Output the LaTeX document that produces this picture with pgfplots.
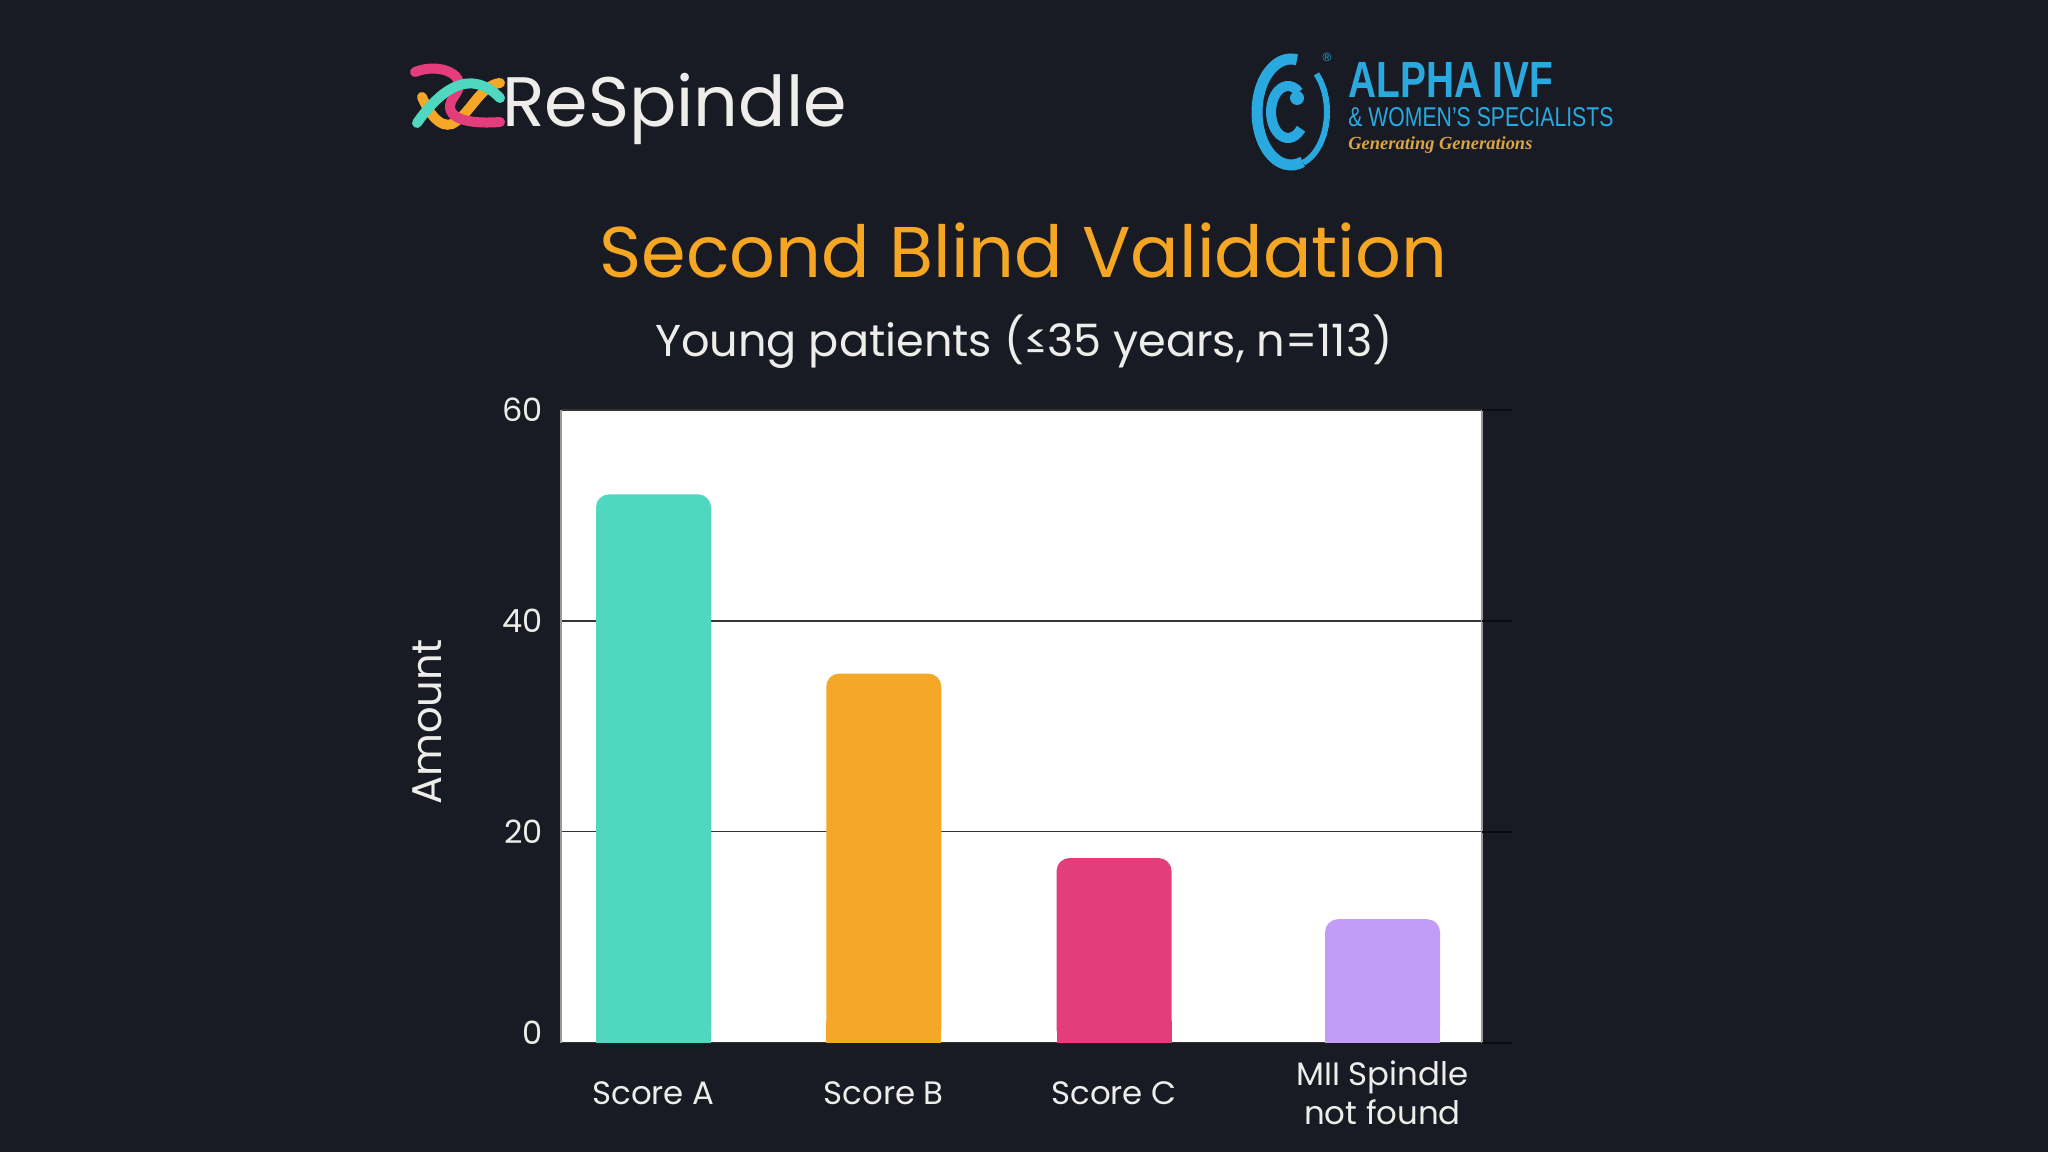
\documentclass[border=0pt]{standalone}
\usepackage{fontspec}
\setmainfont{Poppins}
\newfontfamily\brandfont{Liberation Sans}
\newfontfamily\taglinefont{Liberation Serif}
\usepackage{pgfplots}
\pgfplotsset{compat=1.18}

\definecolor{bg}{HTML}{191B24}
\definecolor{txt}{HTML}{EEEDEA}
\definecolor{ttl}{HTML}{F5A623}
\definecolor{cA}{HTML}{4FD8BF}
\definecolor{cB}{HTML}{F5A727}
\definecolor{cC}{HTML}{E33D7B}
\definecolor{cD}{HTML}{C39CF8}
\definecolor{gridc}{HTML}{333333}
\definecolor{extc}{HTML}{0B0C11}
\definecolor{ivf}{HTML}{2AA9E0}
\definecolor{gold}{HTML}{D9A545}

\begin{document}
\begin{tikzpicture}[x=0.5pt,y=0.5pt]
% canvas
\fill[bg] (0,0) rectangle (2048,1152);

% ReSpindle mark
\begin{scope}[line cap=round, line width=5pt]
  \draw[cB] (422,1055) .. controls (430,1037) and (440,1024) .. (452,1028)
                       .. controls (470,1037) and (480,1067) .. (500,1069);
  \draw[cC] (415,1080) .. controls (440,1090) and (470,1077) .. (455,1057)
                       .. controls (440,1037) and (460,1027) .. (500,1030);
  \draw[cA] (417,1029) .. controls (440,1062) and (470,1085) .. (500,1054);
\end{scope}
\node[anchor=base west, inner sep=0, text=txt, font=\fontsize{35pt}{40pt}\selectfont]
  at (502,1025) {ReSpindle};

% Alpha IVF mark
\begin{scope}[ivf]
  \draw[line width=5.5pt] (1296.9,1092.2) arc[start angle=80, end angle=290, x radius=34, y radius=53];
  \draw[line width=3pt] (1303.3,989.2) arc[start angle=-70, end angle=45, x radius=36, y radius=54];
  \draw[line width=5pt] (1298.9,1059.9) arc[start angle=50, end angle=320, x radius=17, y radius=26];
  \fill (1297,1054) circle[radius=7];
  \node[inner sep=0, font=\brandfont\fontsize{6pt}{7pt}\selectfont] at (1327,1095) {®};
\end{scope}
\node[anchor=base west, inner sep=0, text=ivf] at (1348,1054)
  {\resizebox{102.5pt}{17.5pt}{\brandfont\bfseries ALPHA IVF}};
\node[anchor=base west, inner sep=0, text=ivf] at (1348,1025)
  {\resizebox{132.5pt}{9.5pt}{\brandfont \& WOMEN’S SPECIALISTS}};
\node[anchor=base west, inner sep=0, text=gold] at (1348,1002)
  {\resizebox{92pt}{!}{\taglinefont\bfseries\itshape Generating Generations}};

% titles
\node[anchor=base, inner sep=0, text=ttl, font=\fontsize{35.9pt}{42pt}\selectfont]
  at (1023.5,874) {Second Blind Validation};
\node[anchor=base, inner sep=0, text=txt, font=\fontsize{22.3pt}{26pt}\selectfont]
  at (1024,795) {Young patients (≤35 years, n=113)};

\begin{axis}[
  at={(280.5pt,54.75pt)}, anchor=south west,
  scale only axis, width=460.5pt, height=316.25pt,
  xmin=-0.4017, xmax=3.598, ymin=0, ymax=60,
  axis background/.style={fill=white},
  clip=false,
  separate axis lines,
  x axis line style={draw=gridc, line width=0.8pt},
  y axis line style={draw=gray!80, line width=0.6pt},
  ytick={0,20,40,60},
  yticklabels={\raisebox{10pt}{0},20,40,60},
  xtick={0,1,2,3.166},
  xticklabels={Score A, Score B, Score C, {MII Spindle\\not found}},
  major tick length=0pt,
  ymajorgrids, grid style={draw=gridc, line width=0.8pt},
  /pgf/number format/assume math mode=true,
  yticklabel style={anchor=east, inner sep=0pt, xshift=-9pt, text=txt,
                    font=\fontsize{16pt}{18pt}\selectfont},
  xticklabel style={anchor=center, inner sep=0pt, yshift=-25.25pt, align=center, text=txt,
                    font=\fontsize{16.2pt}{19.7pt}\selectfont},
  ylabel={Amount},
  ylabel style={at={(axis description cs:-0.1455,0.507)}, anchor=center, inner sep=0pt,
                text=txt, font=\fontsize{20.8pt}{25pt}\selectfont},
  every axis plot/.append style={ybar, bar width=57.5pt, bar shift=0pt, draw=none},
]
% bars with rounded tops; a short square block keeps each foot flat
\addplot[fill=cA, rounded corners=6.5pt] coordinates {(0,52)};
\addplot[fill=cA] coordinates {(0,2)};
\addplot[fill=cB, rounded corners=6.5pt] coordinates {(1,35)};
\addplot[fill=cB] coordinates {(1,2)};
\addplot[fill=cC, rounded corners=6.5pt] coordinates {(2,17.5)};
\addplot[fill=cC] coordinates {(2,2)};
\addplot[fill=cD, rounded corners=6.5pt] coordinates {(3.166,11.7)};
\addplot[fill=cD] coordinates {(3.166,2)};

% rules run a little past the right edge of the plot
\draw[extc, line width=1pt] (rel axis cs:1,0) -- (rel axis cs:1.0326,0);
\draw[extc, line width=1pt] (rel axis cs:1,0.33333) -- (rel axis cs:1.0326,0.33333);
\draw[extc, line width=1pt] (rel axis cs:1,0.66667) -- (rel axis cs:1.0326,0.66667);
\draw[extc, line width=1pt] (rel axis cs:1,1) -- (rel axis cs:1.0326,1);
\end{axis}

\pgfresetboundingbox
\useasboundingbox (0,0) rectangle (2048,1152);
\end{tikzpicture}
\end{document}
